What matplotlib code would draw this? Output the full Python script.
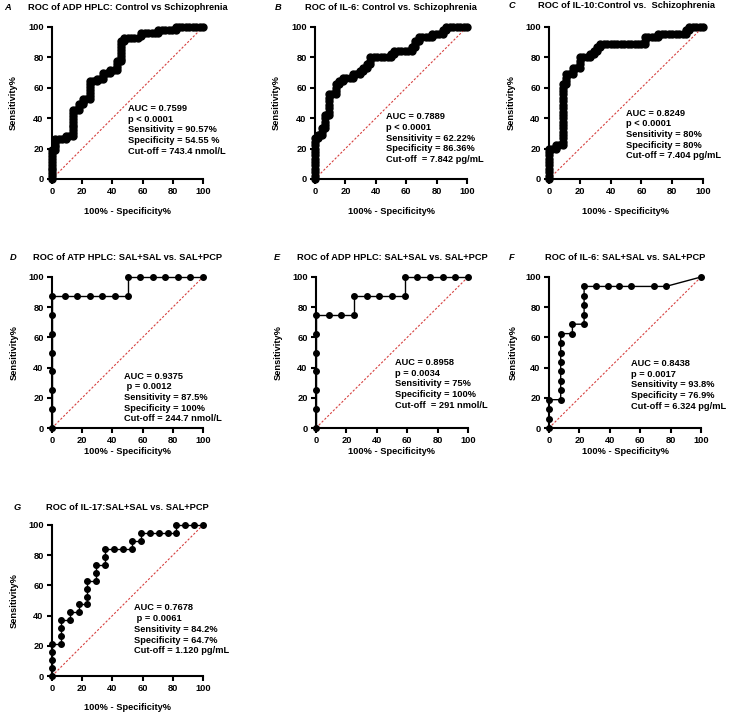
import matplotlib
matplotlib.use("Agg")
import matplotlib.pyplot as plt

plt.rcParams['font.family'] = ['Liberation Sans', 'DejaVu Sans']
plt.rcParams['font.weight'] = 'bold'

W, H = 729, 715

# ---------------- data ----------------
# Panel A: ROC of ADP HPLC: Control vs Schizophrenia
a_x = [0]*11 + [2.3]*5 + [4.5, 6.8, 9.1, 9.1, 11.4] + [13.6]*10 + [15.9] + [18.2]*3 + [20.5]*3 + [22.7] \
      + [25.0]*7 + [27.3] + [29.5]*2 + [31.8] + [34.1]*3 + [36.4] + [38.6]*2 + [40.9] + [43.2]*4 \
      + [45.5]*8 + [47.7]*2 + [50.0, 52.3, 54.5, 56.8] + [59.1]*2 + [61.4, 63.6, 65.9, 68.2] + [70.5]*2 \
      + [72.7, 75.0, 77.3, 79.5] + [81.8]*2 + [84.1, 86.4, 88.6, 90.9, 93.2, 95.5, 97.7, 100]
a_y = [0, 1.9, 3.8, 5.7, 7.5, 9.4, 11.3, 13.2, 15.1, 17.0, 18.9] + [18.9, 20.8, 22.6, 24.5, 26.4] \
      + [26.4, 26.4, 26.4, 28.3, 28.3] + [28.3, 30.2, 32.1, 34.0, 35.8, 37.7, 39.6, 41.5, 43.4, 45.3] + [45.3] \
      + [45.3, 47.2, 49.1] + [49.1, 50.9, 52.8] + [52.8] + [52.8, 54.7, 56.6, 58.5, 60.4, 62.3, 64.2] + [64.2] \
      + [64.2, 66.0] + [66.0] + [66.0, 67.9, 69.8] + [69.8] + [69.8, 71.7] + [71.7] + [71.7, 73.6, 75.5, 77.4] \
      + [77.4, 79.2, 81.1, 83.0, 84.9, 86.8, 88.7, 90.6] + [90.6, 92.5] + [92.5]*4 + [94.3, 96.2] + [96.2]*4 \
      + [96.2, 98.1] + [98.1]*4 + [98.1, 100] + [100]*8

# Panel B: ROC of IL-6: Control vs. Schizophrenia
b_x = [0]*13 + [2.3]*2 + [4.5]*3 + [6.8]*5 + [9.1]*7 + [11.4] + [13.6]*4 + [15.9]*2 + [18.2]*2 \
      + [20.5, 22.7] + [25.0]*2 + [27.3] + [29.5]*2 + [31.8]*2 + [34.1]*2 + [36.4]*3 \
      + [38.6, 40.9, 43.2, 45.5, 47.7] + [50.0]*2 + [52.3]*2 + [54.5, 56.8, 59.1, 61.4] + [63.6]*2 \
      + [65.9]*3 + [68.2]*2 + [70.5, 72.7, 75.0] + [77.3]*2 + [79.5, 81.8] + [84.1]*2 + [86.4]*2 \
      + [88.6, 90.9, 93.2, 95.5, 97.7, 100]
b_y = [0, 2.2, 4.4, 6.7, 8.9, 11.1, 13.3, 15.6, 17.8, 20.0, 22.2, 24.4, 26.7] + [26.7, 28.9] \
      + [28.9, 31.1, 33.3] + [33.3, 35.6, 37.8, 40.0, 42.2] + [42.2, 44.4, 46.7, 48.9, 51.1, 53.3, 55.6] \
      + [55.6] + [55.6, 57.8, 60.0, 62.2] + [62.2, 64.4] + [64.4, 66.7] + [66.7, 66.7] + [66.7, 68.9] \
      + [68.9] + [68.9, 71.1] + [71.1, 73.3] + [73.3, 75.6] + [75.6, 77.8, 80.0] + [80.0]*5 + [80.0, 82.2] \
      + [82.2, 84.4] + [84.4]*4 + [84.4, 86.7] + [86.7, 88.9, 91.1] + [91.1, 93.3] + [93.3]*3 + [93.3, 95.6] \
      + [95.6]*2 + [95.6, 97.8] + [97.8, 100] + [100]*6

# Panel C: ROC of IL-10: Control vs. Schizophrenia
c_x = [0]*10 + [2.2] + [4.4]*2 + [6.7] + [8.9]*19 + [11.1]*4 + [13.3] + [15.6]*3 + [17.8] + [20.0]*4 \
      + [22.2, 24.4] + [26.7]*2 + [28.9]*2 + [31.1]*2 + [33.3]*2 \
      + [35.6, 37.8, 40.0, 42.2, 44.4, 46.7, 48.9, 51.1, 53.3, 55.6, 57.8, 60.0] + [62.2]*3 \
      + [64.4, 66.7, 68.9] + [71.1]*2 + [73.3, 75.6, 77.8, 80.0, 82.2, 84.4, 86.7] + [88.9]*2 + [91.1]*2 \
      + [93.3, 95.6, 97.8, 100]
c_y = [0, 2.2, 4.4, 6.7, 8.9, 11.1, 13.3, 15.6, 17.8, 20.0] + [20.0] + [20.0, 22.2] + [22.2] \
      + [22.2, 24.4, 26.7, 28.9, 31.1, 33.3, 35.6, 37.8, 40.0, 42.2, 44.4, 46.7, 48.9, 51.1, 53.3, 55.6,
         57.8, 60.0, 62.2] + [62.2, 64.4, 66.7, 68.9] + [68.9] + [68.9, 71.1, 73.3] + [73.3] \
      + [73.3, 75.6, 77.8, 80.0] + [80.0, 80.0] + [80.0, 82.2] + [82.2, 84.4] + [84.4, 86.7] + [86.7, 88.9] \
      + [88.9]*12 + [88.9, 91.1, 93.3] + [93.3]*3 + [93.3, 95.6] + [95.6]*7 + [95.6, 97.8] + [97.8, 100] \
      + [100]*4

# Panel D: ROC of ATP HPLC: SAL+SAL vs. SAL+PCP
d_x = [0]*8 + [8.3, 16.7, 25.0, 33.3, 41.7, 50.0, 50.0, 58.3, 66.7, 75.0, 83.3, 91.7, 100]
d_y = [0, 12.5, 25, 37.5, 50, 62.5, 75, 87.5] + [87.5]*6 + [100]*7

# Panel E: ROC of ADP HPLC: SAL+SAL vs. SAL+PCP
e_x = [0]*7 + [8.3, 16.7, 25.0, 25.0, 33.3, 41.7, 50.0, 58.3, 58.3, 66.7, 75.0, 83.3, 91.7, 100]
e_y = [0, 12.5, 25, 37.5, 50, 62.5, 75] + [75]*3 + [87.5]*5 + [100]*6

# Panel F: ROC of IL-6: SAL+SAL vs. SAL+PCP
f_x = [0]*4 + [7.7]*8 + [15.4]*2 + [23.1]*5 + [30.8, 38.5, 46.2, 53.8, 69.2, 76.9, 100]
f_y = [0, 6.25, 12.5, 18.75] + [18.75, 25, 31.25, 37.5, 43.75, 50, 56.25, 62.5] + [62.5, 68.75] \
      + [68.75, 75, 81.25, 87.5, 93.75] + [93.75]*6 + [100]

# Panel G: ROC of IL-17: SAL+SAL vs. SAL+PCP
g_x = [0]*5 + [5.9]*4 + [11.8]*2 + [17.6]*2 + [23.5]*4 + [29.4]*3 + [35.3]*3 + [41.2, 47.1] + [52.9]*2 \
      + [58.8]*2 + [64.7, 70.6, 76.5] + [82.4]*2 + [88.2, 94.1, 100]
g_y = [0, 5.26, 10.53, 15.79, 21.05] + [21.05, 26.3, 31.6, 36.8] + [36.8, 42.1] + [42.1, 47.4] \
      + [47.4, 52.6, 57.9, 63.2] + [63.2, 68.4, 73.7] + [73.7, 78.9, 84.2] + [84.2, 84.2] + [84.2, 89.5] \
      + [89.5, 94.7] + [94.7]*3 + [94.7, 100] + [100]*3

titles = ["ROC of ADP HPLC: Control vs Schizophrenia",
          "ROC of IL-6: Control vs. Schizophrenia",
          "ROC of IL-10:Control vs.  Schizophrenia",
          "ROC of ATP HPLC: SAL+SAL vs. SAL+PCP",
          "ROC of ADP HPLC: SAL+SAL vs. SAL+PCP",
          "ROC of IL-6: SAL+SAL vs. SAL+PCP",
          "ROC of IL-17:SAL+SAL vs. SAL+PCP"]
letters = ["A", "B", "C", "D", "E", "F", "G"]
stats = ["AUC = 0.7599\np < 0.0001\nSensitivity = 90.57%\nSpecificity = 54.55 %\nCut-off = 743.4 nmol/L",
         "AUC = 0.7889\np < 0.0001\nSensitivity = 62.22%\nSpecificity = 86.36%\nCut-off  = 7.842 pg/mL",
         "AUC = 0.8249\np < 0.0001\nSensitivity = 80%\nSpecificity = 80%\nCut-off = 7.404 pg/mL",
         "AUC = 0.9375\n p = 0.0012\nSensitivity = 87.5%\nSpecificity = 100%\nCut-off = 244.7 nmol/L",
         "AUC = 0.8958\np = 0.0034\nSensitivity = 75%\nSpecificity = 100%\nCut-off  = 291 nmol/L",
         "AUC = 0.8438\np = 0.0017\nSensitivity = 93.8%\nSpecificity = 76.9%\nCut-off = 6.324 pg/mL",
         "AUC = 0.7678\n p = 0.0061\nSensitivity = 84.2%\nSpecificity = 64.7%\nCut-off = 1.120 pg/mL"]
xs = [a_x, b_x, c_x, d_x, e_x, f_x, g_x]
ys = [a_y, b_y, c_y, d_y, e_y, f_y, g_y]
ticks = [0, 20, 40, 60, 80, 100]

# ---------------- layout (pixels) ----------------
boxes = [(52, 203, 27, 179), (315, 467, 27, 179), (549, 703, 27, 179),
         (52, 203, 277, 428), (316, 468, 277, 428), (549, 701, 277, 428),
         (52, 203, 525, 676)]
# centre of the first text line (data coords)
stat_pos = [(50, 47), (47, 41.6), (50, 44), (47.5, 35), (52, 44), (54, 43.4), (54, 45.7)]
letter_pos = [(4, 7), (275, 7), (509, 6), (10, 257), (274, 258), (509, 258), (14, 507)]
title_y = [7, 7, 6, 258, 258, 258, 507]
ylabel_x = [13, 276, 511, 14, 278, 513, 14]
xlabel_y = [212, 212, 212, 452, 452, 452, 707]
msize = [5.0, 5.0, 5.0, 4.0, 4.0, 4.0, 4.0]

fig = plt.figure(figsize=(W / 100, H / 100), dpi=100)
fs = 6.7
line_px = 10.7

for i in range(7):
    l, r, t, b = boxes[i]
    ax = fig.add_axes([l / W, 1 - b / H, (r - l) / W, (b - t) / H])
    ax.plot([0, 100], [0, 100], color='#d6403f', lw=0.8, ls=(0, (2, 1.6)), zorder=1)
    ax.plot(xs[i], ys[i], color='black', lw=1.0, marker='o', ms=msize[i], zorder=3, clip_on=False)
    ax.set_xlim(0, 100)
    ax.set_ylim(0, 100)
    ax.set_xticks(ticks)
    ax.set_yticks(ticks)
    for s in ['top', 'right']:
        ax.spines[s].set_visible(False)
    for s in ['left', 'bottom']:
        ax.spines[s].set_linewidth(1.5)
    ax.tick_params(direction='out', length=3.5, width=1.5, labelsize=fs, pad=2.5)
    for lab in ax.get_xticklabels() + ax.get_yticklabels():
        lab.set_fontweight('bold')
    sx, sy = stat_pos[i]
    per = line_px / ((b - t) / 100.0)  # data units per line
    for k, line in enumerate(stats[i].split("\n")):
        ax.text(sx, sy - k * per, line, fontsize=fs, fontweight='bold', va='center_baseline', ha='left',
                clip_on=False)
    cx = (l + r) / 2 / W
    fig.text(cx, 1 - title_y[i] / H, titles[i], ha='center', va='center', fontsize=fs, fontweight='bold')
    lx, ly = letter_pos[i]
    fig.text(lx / W, 1 - ly / H, letters[i], ha='left', va='center', fontsize=fs,
             fontweight='bold', style='italic')
    fig.text(ylabel_x[i] / W, 1 - (t + b) / 2 / H, "Sensitivity%", rotation=90, ha='center', va='center',
             fontsize=fs, fontweight='bold')
    fig.text(cx, 1 - xlabel_y[i] / H, "100% - Specificity%", ha='center', va='center',
             fontsize=fs, fontweight='bold')

fig.savefig("out.png", dpi=100, facecolor='white')
